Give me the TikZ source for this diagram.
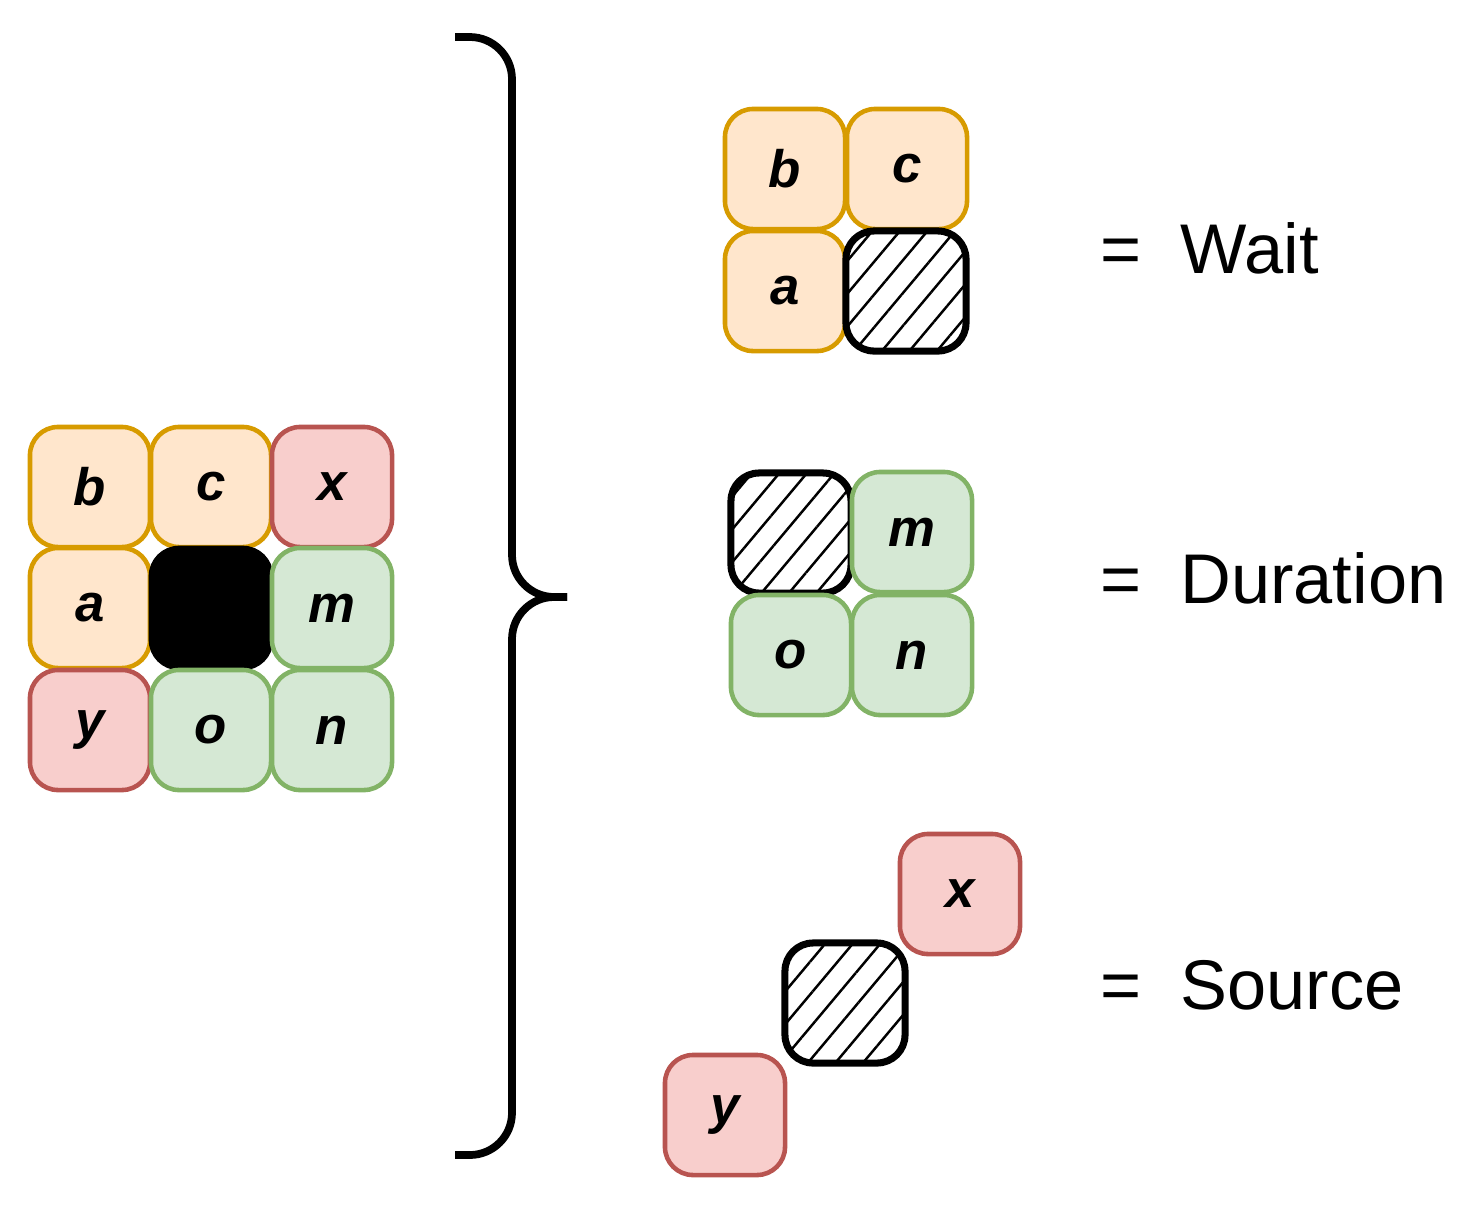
\documentclass[tikz,border=0pt]{standalone}
\usepackage{fontspec}
\setmainfont{Liberation Sans}
\usetikzlibrary{patterns.meta,positioning}
\definecolor{orfill}{HTML}{FFE6CC}\definecolor{ordraw}{HTML}{D79B00}
\definecolor{rdfill}{HTML}{F8CECC}\definecolor{rddraw}{HTML}{B85450}
\definecolor{gnfill}{HTML}{D5E8D4}\definecolor{gndraw}{HTML}{82B366}
\tikzset{
	cell/.style={rectangle, rounded corners=8pt, minimum size=1.2cm, line width=1.3pt, font=\fontsize{15}{15}\selectfont\bfseries\itshape},
	org/.style={cell, fill=orfill, draw=ordraw},
	red/.style={cell, fill=rdfill, draw=rddraw},
	grn/.style={cell, fill=gnfill, draw=gndraw},
	hole/.style={cell, draw=black, line width=2pt, pattern={Lines[angle=50,distance=6pt,line width=0.7pt]}},
	eqn/.style={anchor=west, font=\fontsize{20}{20}\selectfont}
}
\begin{document}
\begin{tikzpicture}[x=0.01cm, y=-0.01cm]
	\useasboundingbox (0,0) rectangle (1484,1205);
	% left grid
	\node[org] (b) at (90,487) {b};
	\node[org] (c) at (211,487) {c};
	\node[red] (x) at (332,487) {x};
	\node[org] (a) at (90,608) {a};
	\node[cell, fill=black, draw=black] (ctr) at (211,608) {};
	\node[grn] (m) at (332,608) {m};
	\node[red] (y) at (90,730) {y};
	\node[grn] (o) at (211,730) {o};
	\node[grn] (n) at (332,730) {n};
	% brace
	\draw[line width=2.2pt, rounded corners=12pt] (455,37) -- (512,37) -- (512,597) -- (567,597);
	\draw[line width=2.2pt, rounded corners=12pt] (455,1155) -- (512,1155) -- (512,597) -- (567,597);
	% wait
	\node[org] (wb) at (785,169) {b};
	\node[org] (wc) at (907,169) {c};
	\node[org] (wa) at (785,291) {a};
	\node[hole] (wh) at (906,291) {};
	\node[eqn] (wait) at (1088,248) {=\ \ Wait};
	% duration
	\node[hole] (dh) at (791,533) {};
	\node[grn] (dm) at (912,532) {m};
	\node[grn] (do) at (791,655) {o};
	\node[grn] (dn) at (912,655) {n};
	\node[eqn] (dur) at (1088,578) {=\ \ Duration};
	% source
	\node[red] (sx) at (960,894) {x};
	\node[hole] (sh) at (845,1003) {};
	\node[red] (sy) at (725,1115) {y};
	\node[eqn] (src) at (1088,985) {=\ \ Source};
\end{tikzpicture}
\end{document}
